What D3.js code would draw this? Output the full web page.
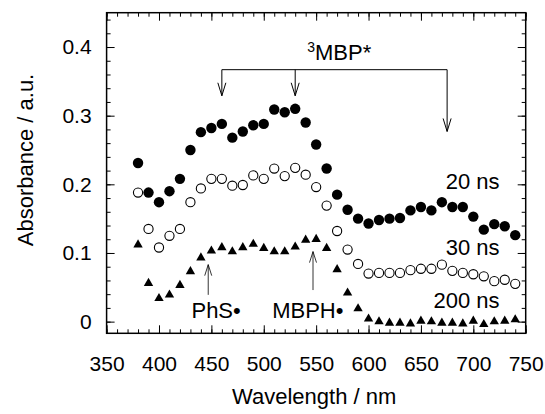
<!DOCTYPE html>
<html lang="en">
<head>
    <meta charset="utf-8">
    <title>Transient absorption spectra</title>
    <script src="https://d3js.org/d3.v7.min.js"></script>
    <style>
        html, body { margin: 0; padding: 0; background: #fff; overflow: hidden; }
        svg { display: block; }
        svg text { font-family: "Liberation Sans", Arial, Helvetica, sans-serif; fill: #000; }
    </style>
</head>
<body>
    <div id="chart"></div>
    <script>
        // Data
        const wavelength = [380, 390, 400, 410, 420, 430, 440, 450, 460, 470, 480, 490, 500, 510, 520, 530, 540, 550, 560,
            570, 580, 590, 600, 610, 620, 630, 640, 650, 660, 670, 680, 690, 700, 710, 720, 730, 740];
        const abs20ns = [0.231, 0.188, 0.174, 0.190, 0.208, 0.250, 0.276, 0.282, 0.288, 0.268, 0.277, 0.286, 0.288, 0.309, 0.305, 0.310, 0.290, 0.258, 0.223,
            0.185, 0.163, 0.150, 0.143, 0.148, 0.150, 0.151, 0.162, 0.167, 0.162, 0.174, 0.167, 0.167, 0.153, 0.134, 0.142, 0.139, 0.126];
        const abs30ns = [0.188, 0.135, 0.108, 0.125, 0.135, 0.174, 0.194, 0.208, 0.208, 0.198, 0.199, 0.213, 0.208, 0.223, 0.212, 0.224, 0.214, 0.196, 0.169,
            0.132, 0.105, 0.084, 0.070, 0.071, 0.071, 0.071, 0.075, 0.077, 0.077, 0.083, 0.074, 0.071, 0.069, 0.066, 0.059, 0.061, 0.055];
        const abs200ns = [0.112, 0.056, 0.034, 0.039, 0.053, 0.073, 0.093, 0.103, 0.108, 0.102, 0.108, 0.113, 0.107, 0.102, 0.102, 0.109, 0.119, 0.120, 0.107,
            0.076, 0.042, 0.019, 0.004, 0.000, -0.002, -0.002, -0.003, 0.001, 0.000, -0.002, -0.002, -0.003, 0.001, -0.004, 0.000, 0.001, 0.003];

        const xTicks = [350, 400, 450, 500, 550, 600, 650, 700, 750];
        const yTicks = [0, 0.1, 0.2, 0.3, 0.4];

        // series labels (text, wavelength of right edge, absorbance of baseline)
        const seriesLabels = ["20 ns", "30 ns", "200 ns"];
        const seriesLabelNm = [725, 725, 725];
        const seriesLabelAbs = [0.193, 0.097, 0.020];

        // triplet bracket: arrows at these wavelengths
        const tripletArrowNm = [460, 530, 675];
        const tripletArrowTip = [0.329, 0.329, 0.277];
        const tripletLevel = 0.367;
        const tripletLabelNm = 572;
        const tripletLabelAbs = 0.381;

        // radical markers
        const radicalLabels = ["PhS", "MBPH"];
        const radicalArrowNm = [447, 547];
        const radicalArrowTip = [0.083, 0.102];
        const radicalArrowBase = [0.039, 0.046];
        const radicalLabelNm = [431, 508];
        const radicalLabelAbs = [0.005, 0.005];

        // Dimensions
        const width = 545, height = 414;
        const margin = { top: 12.7, right: 19.3, bottom: 80.7, left: 106.6 };
        const innerWidth = width - margin.left - margin.right;
        const innerHeight = height - margin.top - margin.bottom;

        const svg = d3.select("#chart").append("svg")
            .attr("width", width)
            .attr("height", height);

        const bounds = svg.append("g")
            .attr("transform", `translate(${margin.left}, ${margin.top})`);

        // Scales
        const x = d3.scaleLinear().domain([350, 750]).range([0, innerWidth]);
        const y = d3.scaleLinear().domain([-0.017, 0.45]).range([innerHeight, 0]);

        const minorX = d3.range(350, 751, 10);
        const minorY = d3.range(0, 0.441, 0.02);

        // Axes (ticks point inward)
        const fontSize = 21;
        const clean = g => g.select(".domain").remove();
        const bare = g => { g.select(".domain").remove(); g.selectAll("text").remove(); };

        bounds.append("g").attr("transform", `translate(0, ${innerHeight})`)
            .call(d3.axisBottom(x).tickValues(minorX).tickSize(-4))
            .call(bare);
        const xAxis = bounds.append("g").attr("transform", `translate(0, ${innerHeight})`)
            .call(d3.axisBottom(x).tickValues(xTicks).tickSize(-8))
            .call(clean);
        xAxis.selectAll("text")
            .attr("y", 38.2).attr("dy", 0)
            .attr("font-size", fontSize);

        bounds.append("g")
            .call(d3.axisTop(x).tickValues(minorX).tickSize(-4))
            .call(bare);
        bounds.append("g")
            .call(d3.axisTop(x).tickValues(xTicks).tickSize(-8))
            .call(bare);

        bounds.append("g")
            .call(d3.axisLeft(y).tickValues(minorY).tickSize(-4))
            .call(bare);
        const yAxis = bounds.append("g")
            .call(d3.axisLeft(y).tickValues(yTicks).tickSize(-8).tickPadding(15)
                .tickFormat(d => d === 0 ? "0" : d3.format(".1f")(d)))
            .call(clean);
        yAxis.selectAll("text").attr("font-size", fontSize);

        bounds.append("g").attr("transform", `translate(${innerWidth}, 0)`)
            .call(d3.axisRight(y).tickValues(minorY).tickSize(-4))
            .call(bare);
        bounds.append("g").attr("transform", `translate(${innerWidth}, 0)`)
            .call(d3.axisRight(y).tickValues(yTicks).tickSize(-8))
            .call(bare);

        bounds.selectAll(".tick line").attr("stroke", "#000").attr("stroke-width", 1);

        // Frame
        bounds.append("rect")
            .attr("width", innerWidth)
            .attr("height", innerHeight)
            .attr("fill", "none")
            .attr("stroke", "#000")
            .attr("stroke-width", 1.5);

        // Axis titles
        svg.append("text")
            .attr("x", margin.left + innerWidth / 2 - 2)
            .attr("y", 404)
            .attr("text-anchor", "middle")
            .attr("font-size", 22)
            .text("Wavelength / nm");

        svg.append("text")
            .attr("transform", `translate(33, 160) rotate(-90)`)
            .attr("text-anchor", "middle")
            .attr("font-size", 22)
            .text("Absorbance / a.u.");

        // Draw data
        const rows = wavelength.map((w, i) => ({ w, a20: abs20ns[i], a30: abs30ns[i], a200: abs200ns[i] }));

        bounds.append("g").selectAll("circle")
            .data(rows)
            .join("circle")
            .attr("cx", d => x(d.w))
            .attr("cy", d => y(d.a20))
            .attr("r", 5.2)
            .attr("fill", "#000");

        bounds.append("g").selectAll("circle")
            .data(rows)
            .join("circle")
            .attr("cx", d => x(d.w))
            .attr("cy", d => y(d.a30))
            .attr("r", 4.6)
            .attr("fill", "#fff")
            .attr("stroke", "#000")
            .attr("stroke-width", 1.1);

        const triangle = d3.symbol().type(d3.symbolTriangle).size(38);
        bounds.append("g").selectAll("path")
            .data(rows)
            .join("path")
            .attr("transform", d => `translate(${x(d.w)}, ${y(d.a200)})`)
            .attr("d", triangle)
            .attr("fill", "#000");

        // Series labels
        bounds.selectAll(".series-label")
            .data(seriesLabels)
            .join("text")
            .attr("class", "series-label")
            .attr("x", (d, i) => x(seriesLabelNm[i]))
            .attr("y", (d, i) => y(seriesLabelAbs[i]))
            .attr("text-anchor", "end")
            .attr("font-size", 22)
            .text(d => d);

        // Triplet bracket with arrows
        const ann = bounds.append("g")
            .attr("fill", "none")
            .attr("stroke", "#000")
            .attr("stroke-width", 1);

        ann.append("line")
            .attr("x1", x(tripletArrowNm[0]))
            .attr("x2", x(tripletArrowNm[2]))
            .attr("y1", y(tripletLevel))
            .attr("y2", y(tripletLevel));

        tripletArrowNm.forEach((nm, i) => {
            const ax = x(nm), tip = y(tripletArrowTip[i]);
            ann.append("line")
                .attr("x1", ax).attr("x2", ax)
                .attr("y1", y(tripletLevel)).attr("y2", tip);
            ann.append("path")
                .attr("d", `M${ax - 4},${tip - 13}L${ax},${tip}L${ax + 4},${tip - 13}`);
        });

        const label3 = bounds.append("text")
            .attr("x", x(tripletLabelNm))
            .attr("y", y(tripletLabelAbs))
            .attr("text-anchor", "middle")
            .attr("font-size", 22);
        label3.append("tspan").attr("font-size", 14).attr("dy", -8).text("3");
        label3.append("tspan").attr("dy", 8).text("MBP*");

        // Radical arrows and labels
        radicalArrowNm.forEach((nm, i) => {
            const ax = x(nm), tip = y(radicalArrowTip[i]);
            ann.append("line")
                .attr("stroke-width", 0.8)
                .attr("x1", ax).attr("x2", ax)
                .attr("y1", y(radicalArrowBase[i])).attr("y2", tip);
            ann.append("path")
                .attr("stroke-width", 0.8)
                .attr("d", `M${ax - 3.5},${tip + 11}L${ax},${tip}L${ax + 3.5},${tip + 11}`);
        });

        bounds.selectAll(".radical-label")
            .data(radicalLabels)
            .join("text")
            .attr("class", "radical-label")
            .attr("x", (d, i) => x(radicalLabelNm[i]))
            .attr("y", (d, i) => y(radicalLabelAbs[i]))
            .attr("font-size", 22)
            .text(d => d + "•");
    </script>
</body>
</html>
